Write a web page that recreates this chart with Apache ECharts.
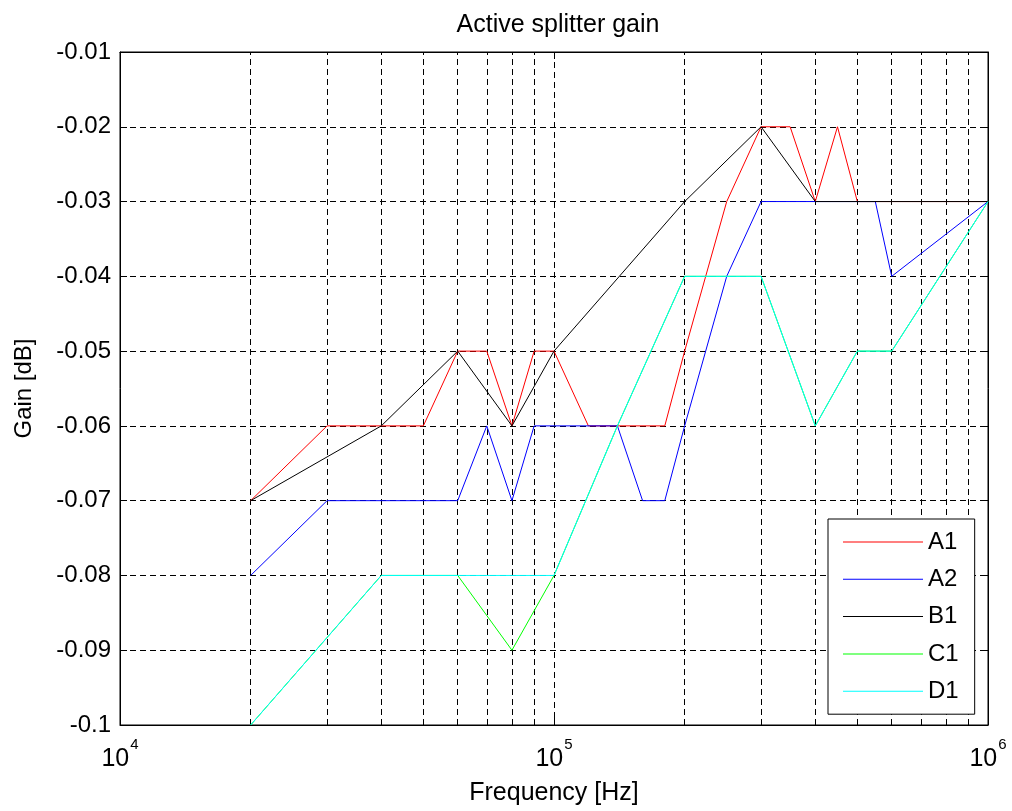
<!DOCTYPE html>
<html>
<head>
<meta charset="utf-8">
<script src="https://cdn.jsdelivr.net/npm/echarts@6/dist/echarts.min.js"></script>
<style>
  html, body { margin: 0; padding: 0; background: #fff; }
  #chart { width: 1012px; height: 811px; }
</style>
</head>
<body>
<div id="chart"></div>
<script>
// Frequencies (Hz) and gains (dB) for each splitter output
const freqA1 = [20e3, 30e3, 40e3, 50e3, 60e3, 70e3, 80e3, 90e3, 100e3, 120e3, 180e3, 200e3, 250e3, 300e3, 350e3, 400e3, 450e3, 500e3, 1e6];
const gainA1 = [-0.07, -0.06, -0.06, -0.06, -0.05, -0.05, -0.06, -0.05, -0.05, -0.06, -0.06, -0.05, -0.03, -0.02, -0.02, -0.03, -0.02, -0.03, -0.03];

const freqA2 = [20e3, 30e3, 60e3, 70e3, 80e3, 90e3, 140e3, 160e3, 180e3, 200e3, 250e3, 300e3, 550e3, 600e3, 1e6];
const gainA2 = [-0.08, -0.07, -0.07, -0.06, -0.07, -0.06, -0.06, -0.07, -0.07, -0.06, -0.04, -0.03, -0.03, -0.04, -0.03];

const freqB1 = [20e3, 40e3, 60e3, 80e3, 100e3, 200e3, 300e3, 400e3, 1e6];
const gainB1 = [-0.07, -0.06, -0.05, -0.06, -0.05, -0.03, -0.02, -0.03, -0.03];

const freqC1 = [20e3, 40e3, 60e3, 80e3, 100e3, 140e3, 200e3, 300e3, 400e3, 500e3, 600e3, 1e6];
const gainC1 = [-0.1, -0.08, -0.08, -0.09, -0.08, -0.06, -0.04, -0.04, -0.06, -0.05, -0.05, -0.03];

const freqD1 = [20e3, 40e3, 60e3, 80e3, 100e3, 140e3, 200e3, 300e3, 400e3, 500e3, 600e3, 1e6];
const gainD1 = [-0.1, -0.08, -0.08, -0.08, -0.08, -0.06, -0.04, -0.04, -0.06, -0.05, -0.05, -0.03];

const seriesNames = ['A1', 'A2', 'B1', 'C1', 'D1'];
const seriesColors = ['#ff0000', '#0000ff', '#000000', '#00ff00', '#00ffff'];

// Minor decade gridline positions (2..9 x 10^4, 2..9 x 10^5)
const minorFreqs = [2e4, 3e4, 4e4, 5e4, 6e4, 7e4, 8e4, 9e4, 2e5, 3e5, 4e5, 5e5, 6e5, 7e5, 8e5, 9e5];

const FONT = "Arial, 'Liberation Sans', Helvetica, sans-serif";
const zip = (xs, ys) => xs.map((x, i) => [x, ys[i]]);
const seriesData = [zip(freqA1, gainA1), zip(freqA2, gainA2), zip(freqB1, gainB1), zip(freqC1, gainC1), zip(freqD1, gainD1)];

const chart = echarts.init(document.getElementById('chart'), null, { renderer: 'canvas' });

const dashed = { color: '#000', width: 1, type: [6, 4] };

const option = {
  backgroundColor: '#fff',
  animation: false,
  textStyle: { fontFamily: FONT },
  title: {
    text: 'Active splitter gain',
    left: 553, top: 8, textAlign: 'center',
    textStyle: { fontFamily: FONT, fontSize: 25, fontWeight: 'normal', color: '#000' }
  },
  grid: { left: 120, right: 24, top: 52, bottom: 84, show: true, borderColor: '#000', borderWidth: 1, backgroundColor: 'transparent' },
  legend: {
    data: seriesNames,
    orient: 'vertical',
    left: 828, top: 519,
    icon: 'rect',
    itemWidth: 80, itemHeight: 1, itemGap: 13.3, itemTextGap: 10,
    padding: [11, 16, 11, 15],
    backgroundColor: '#fff', borderColor: '#000', borderWidth: 1, borderRadius: 0,
    textStyle: { fontFamily: FONT, fontSize: 24, color: '#000' },
    z: 20
  },
  xAxis: [{
    type: 'log', logBase: 10, min: 1e4, max: 1e6,
    name: 'Frequency [Hz]', nameLocation: 'middle', nameGap: 56,
    nameTextStyle: { fontFamily: FONT, fontSize: 25, color: '#000' },
    axisLine: { lineStyle: { color: '#000', width: 1 } },
    axisTick: { inside: true, length: 7, lineStyle: { color: '#000' } },
    splitLine: { show: true, lineStyle: dashed },
    axisLabel: {
      margin: 12,
      formatter: v => '{b|10}{s|' + Math.round(Math.log10(v)) + '}',
      rich: {
        b: { fontFamily: FONT, fontSize: 25, lineHeight: 35, color: '#000', verticalAlign: 'bottom' },
        s: { fontFamily: FONT, fontSize: 15, lineHeight: 15, color: '#000', verticalAlign: 'top', padding: [0, 0, 0, 1] }
      }
    }
  }, {
    type: 'log', logBase: 10, min: 1e4, max: 1e6, position: 'top',
    axisLine: { lineStyle: { color: '#000' } },
    axisTick: { inside: true, length: 7, lineStyle: { color: '#000' } },
    axisLabel: { show: false }, splitLine: { show: false }
  }],
  yAxis: [{
    type: 'value', min: -0.1, max: -0.01, interval: 0.01,
    name: 'Gain [dB]', nameLocation: 'middle', nameGap: 84, nameRotate: 90,
    nameTextStyle: { fontFamily: FONT, fontSize: 24, color: '#000' },
    axisLine: { show: true, lineStyle: { color: '#000' } },
    axisTick: { show: true, inside: true, length: 7, lineStyle: { color: '#000' } },
    splitLine: { show: true, lineStyle: dashed },
    axisLabel: { fontFamily: FONT, fontSize: 24, color: '#000', margin: 9 }
  }, {
    type: 'value', min: -0.1, max: -0.01, interval: 0.01, position: 'right',
    axisLine: { show: true, lineStyle: { color: '#000' } },
    axisTick: { show: true, inside: true, length: 7, lineStyle: { color: '#000' } },
    axisLabel: { show: false }, splitLine: { show: false }
  }],
  series: [{
    // dashed minor gridlines within each decade
    type: 'line', name: 'grid', data: [], silent: true, z: 1,
    markLine: {
      silent: true, symbol: ['none', 'none'], label: { show: false },
      lineStyle: dashed, animation: false,
      data: minorFreqs.map(f => ({ xAxis: f }))
    }
  }].concat(seriesNames.map((name, i) => ({
    name: name, type: 'line', data: seriesData[i],
    symbol: 'none', showSymbol: false, z: 5 + i,
    lineStyle: { color: seriesColors[i], width: 1 },
    itemStyle: { color: seriesColors[i] }
  })))
};

chart.setOption(option);
</script>
</body>
</html>
